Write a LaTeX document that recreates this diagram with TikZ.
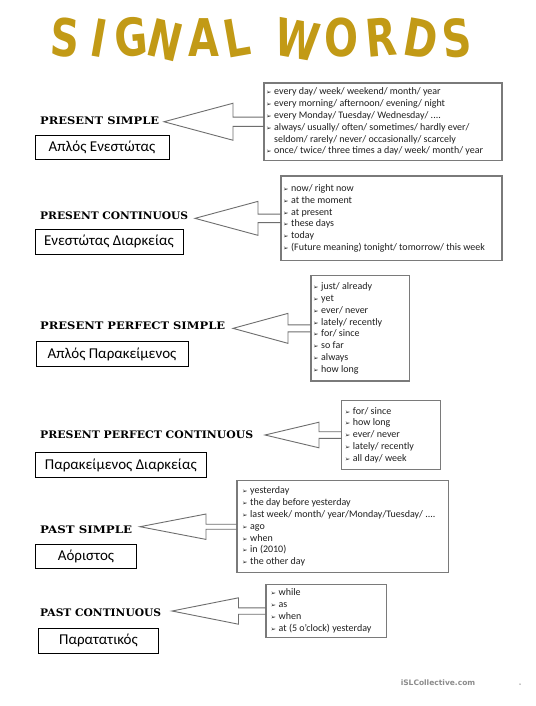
\documentclass[tikz,border=0pt]{standalone}
\usepackage{fontspec}
\usepackage{graphicx}
\usetikzlibrary{calc}
\setmainfont{Carlito}
\newfontfamily\listfont{Carlito}
\newfontfamily\grfont{Carlito}
\newfontfamily\hdfont{DejaVu Serif}
\newfontfamily\ttlfont{DejaVu Sans}
\newfontfamily\symfont{DejaVu Sans}
\definecolor{boxgray}{HTML}{7A7A7A}
\definecolor{arrgray}{HTML}{6E6E6E}
\definecolor{gold}{HTML}{C29A16}
\definecolor{footgray}{HTML}{8C8C8C}
\newcommand\itm[1]{\makebox[8pt][l]{{\symfont\fontsize{6.5}{6.5}\selectfont ➢}}#1}
\newcommand\cnt[1]{\makebox[8pt][l]{}#1}
\newcommand\hdtxt[2]{\resizebox{#1pt}{7.7pt}{\hdfont\bfseries #2}}
\newcommand\tl[1]{\scalebox{1}[1.3]{#1}}
\newcommand\sigarrow[5]{%
  \draw[arrline] let \p1=(#1), \p2=(#2.west) in
    (\x2,\y2+#5pt) -- (\x1+#3pt,\y2+#5pt) -- (\x1+#3pt,\y2+#4pt) -- (\x1,\y2)
    -- (\x1+#3pt,\y2-#4pt) -- (\x1+#3pt,\y2-#5pt) -- (\x2,\y2-#5pt);}
\tikzset{
  listbox/.style={draw=boxgray, line width=1.2pt, inner sep=0pt, outer sep=0pt},
  listtext/.style={anchor=west, align=left, inner sep=0pt, text=black!88,
    font=\listfont\fontsize{10}{11.8}\selectfont},
  grbox/.style={draw=black, line width=1pt, inner sep=0pt, outer sep=0pt,
    font=\grfont\fontsize{15}{17}\selectfont},
  heading/.style={anchor=west, inner sep=0pt},
  arrline/.style={draw=arrgray, line width=0.9pt, line join=miter},
  ttl/.style={text=gold, font=\ttlfont\bfseries\fontsize{40}{40}\selectfont, inner sep=0pt}
}
\begin{document}
\begin{tikzpicture}[x=1pt,y=-1pt]
\useasboundingbox[fill=white] (0,0) rectangle (535,706);
% title
\node[ttl, rotate=-4]  (tS)  at (65,38)    {\tl{S}};
\node[ttl, rotate=-10] (tI)  at (99.5,38)  {\tl{I}};
\node[ttl, rotate=5]   (tG)  at (131,37)   {\tl{G}};
\node[ttl, rotate=-14] (tN)  at (165,40)   {\tl{N}};
\node[ttl, rotate=0]   (tA)  at (203.5,38) {\tl{A}};
\node[ttl, rotate=10]  (tL)  at (236.5,38) {\tl{L}};
\node[ttl, rotate=-10] (tW)  at (297.5,40) {\tl{W}};
\node[ttl, rotate=0]   (tO)  at (341,38)   {\tl{O}};
\node[ttl, rotate=5]   (tR)  at (381.5,37) {\tl{R}};
\node[ttl, rotate=-10] (tD)  at (421,39)   {\tl{D}};
\node[ttl, rotate=6]   (tS2) at (456.5,38) {\tl{S}};

% 1 Present simple
\node[heading] (h1) at (40,120.7) {\hdtxt{119}{PRESENT SIMPLE}};
\node[grbox, minimum width=134pt, minimum height=24pt] (g1) at (102,147) {Απλός Ενεστώτας};
\node[listbox, minimum width=238pt, minimum height=77.5pt] (b1) at (383,121.75) {};
\node[listtext] (l1) at ([xshift=2pt]b1.west) {\itm{every day/ week/ weekend/ month/ year}\\
\itm{every morning/ afternoon/ evening/ night}\\
\itm{every Monday/ Tuesday/ Wednesday/ ....}\\
\itm{always/ usually/ often/ sometimes/ hardly ever/}\\
\cnt{seldom/ rarely/ never/ occasionally/ scarcely}\\
\itm{once/ twice/ three times a day/ week/ month/ year}};
\coordinate (t1) at (164,121.75);
\sigarrow{t1}{b1}{69}{18.5}{4.6}

% 2 Present continuous
\node[heading] (h2) at (40,215.7) {\hdtxt{148}{PRESENT CONTINUOUS}};
\node[grbox, minimum width=148pt, minimum height=25pt] (g2) at (109,241.5) {Ενεστώτας Διαρκείας};
\node[listbox, minimum width=221pt, minimum height=84.7pt] (b2) at (391.5,218.35) {};
\node[listtext] (l2) at ([xshift=2pt]b2.west) {\itm{now/ right now}\\
\itm{at the moment}\\
\itm{at present}\\
\itm{these days}\\
\itm{today}\\
\itm{(Future meaning) tonight/ tomorrow/ this week}};
\coordinate (t2) at (195,218.35);
\sigarrow{t2}{b2}{63}{17}{4.2}

% 3 Present perfect simple
\node[heading] (h3) at (40,325.7) {\hdtxt{185}{PRESENT PERFECT SIMPLE}};
\node[grbox, minimum width=152pt, minimum height=25pt] (g3) at (112,354.2) {Απλός Παρακείμενος};
\node[listbox, minimum width=98.3pt, minimum height=105.3pt] (b3) at (360.15,328.35) {};
\node[listtext] (l3) at ([xshift=2pt]b3.west) {\itm{just/ already}\\
\itm{yet}\\
\itm{ever/ never}\\
\itm{lately/ recently}\\
\itm{for/ since}\\
\itm{so far}\\
\itm{always}\\
\itm{how long}};
\coordinate (t3) at (233,328.35);
\sigarrow{t3}{b3}{55}{15}{3.5}

% 4 Present perfect continuous
\node[heading] (h4) at (40,434.3) {\hdtxt{213}{PRESENT PERFECT CONTINUOUS}};
\node[grbox, minimum width=171.7pt, minimum height=24.6pt] (g4) at (120.85,465) {Παρακείμενος Διαρκείας};
\node[listbox, minimum width=99pt, minimum height=68.6pt] (b4) at (391.2,435) {};
\node[listtext] (l4) at ([xshift=3pt]b4.west) {\itm{for/ since}\\
\itm{how long}\\
\itm{ever/ never}\\
\itm{lately/ recently}\\
\itm{all day/ week}};
\coordinate (t4) at (265,435);
\sigarrow{t4}{b4}{54}{12.8}{3.3}

% 5 Past simple
\node[heading] (h5) at (40,530) {\hdtxt{92}{PAST SIMPLE}};
\node[grbox, minimum width=101.4pt, minimum height=24.3pt] (g5) at (86,556.15) {Αόριστος};
\node[listbox, minimum width=211.3pt, minimum height=92pt] (b5) at (342.65,526.7) {};
\node[listtext] (l5) at ([xshift=5pt]b5.west) {\itm{yesterday}\\
\itm{the day before yesterday}\\
\itm{last week/ month/ year/Monday/Tuesday/ ....}\\
\itm{ago}\\
\itm{when}\\
\itm{in (2010)}\\
\itm{the other day}};
\coordinate (t5) at (140,526.7);
\sigarrow{t5}{b5}{66}{12.7}{2.5}

% 6 Past continuous
\node[heading] (h6) at (40,612.3) {\hdtxt{121}{PAST CONTINUOUS}};
\node[grbox, minimum width=120.4pt, minimum height=25pt] (g6) at (98.5,640.8) {Παρατατικός};
\node[listbox, minimum width=120.7pt, minimum height=53.4pt] (b6) at (326.35,611) {};
\node[listtext] (l6) at ([xshift=4.5pt]b6.west) {\itm{while}\\
\itm{as}\\
\itm{when}\\
\itm{at (5 o’clock) yesterday}};
\coordinate (t6) at (172,611);
\sigarrow{t6}{b6}{66.5}{13.2}{3.2}

% footer
\node[text=footgray, font=\ttlfont\bfseries\fontsize{7.5}{8}\selectfont, inner sep=0pt] (ft) at (438,683) {iSLCollective.com};
\node[fill=footgray, circle, inner sep=0pt, minimum size=1.5pt] (dot) at (520,684) {};
\end{tikzpicture}
\end{document}
